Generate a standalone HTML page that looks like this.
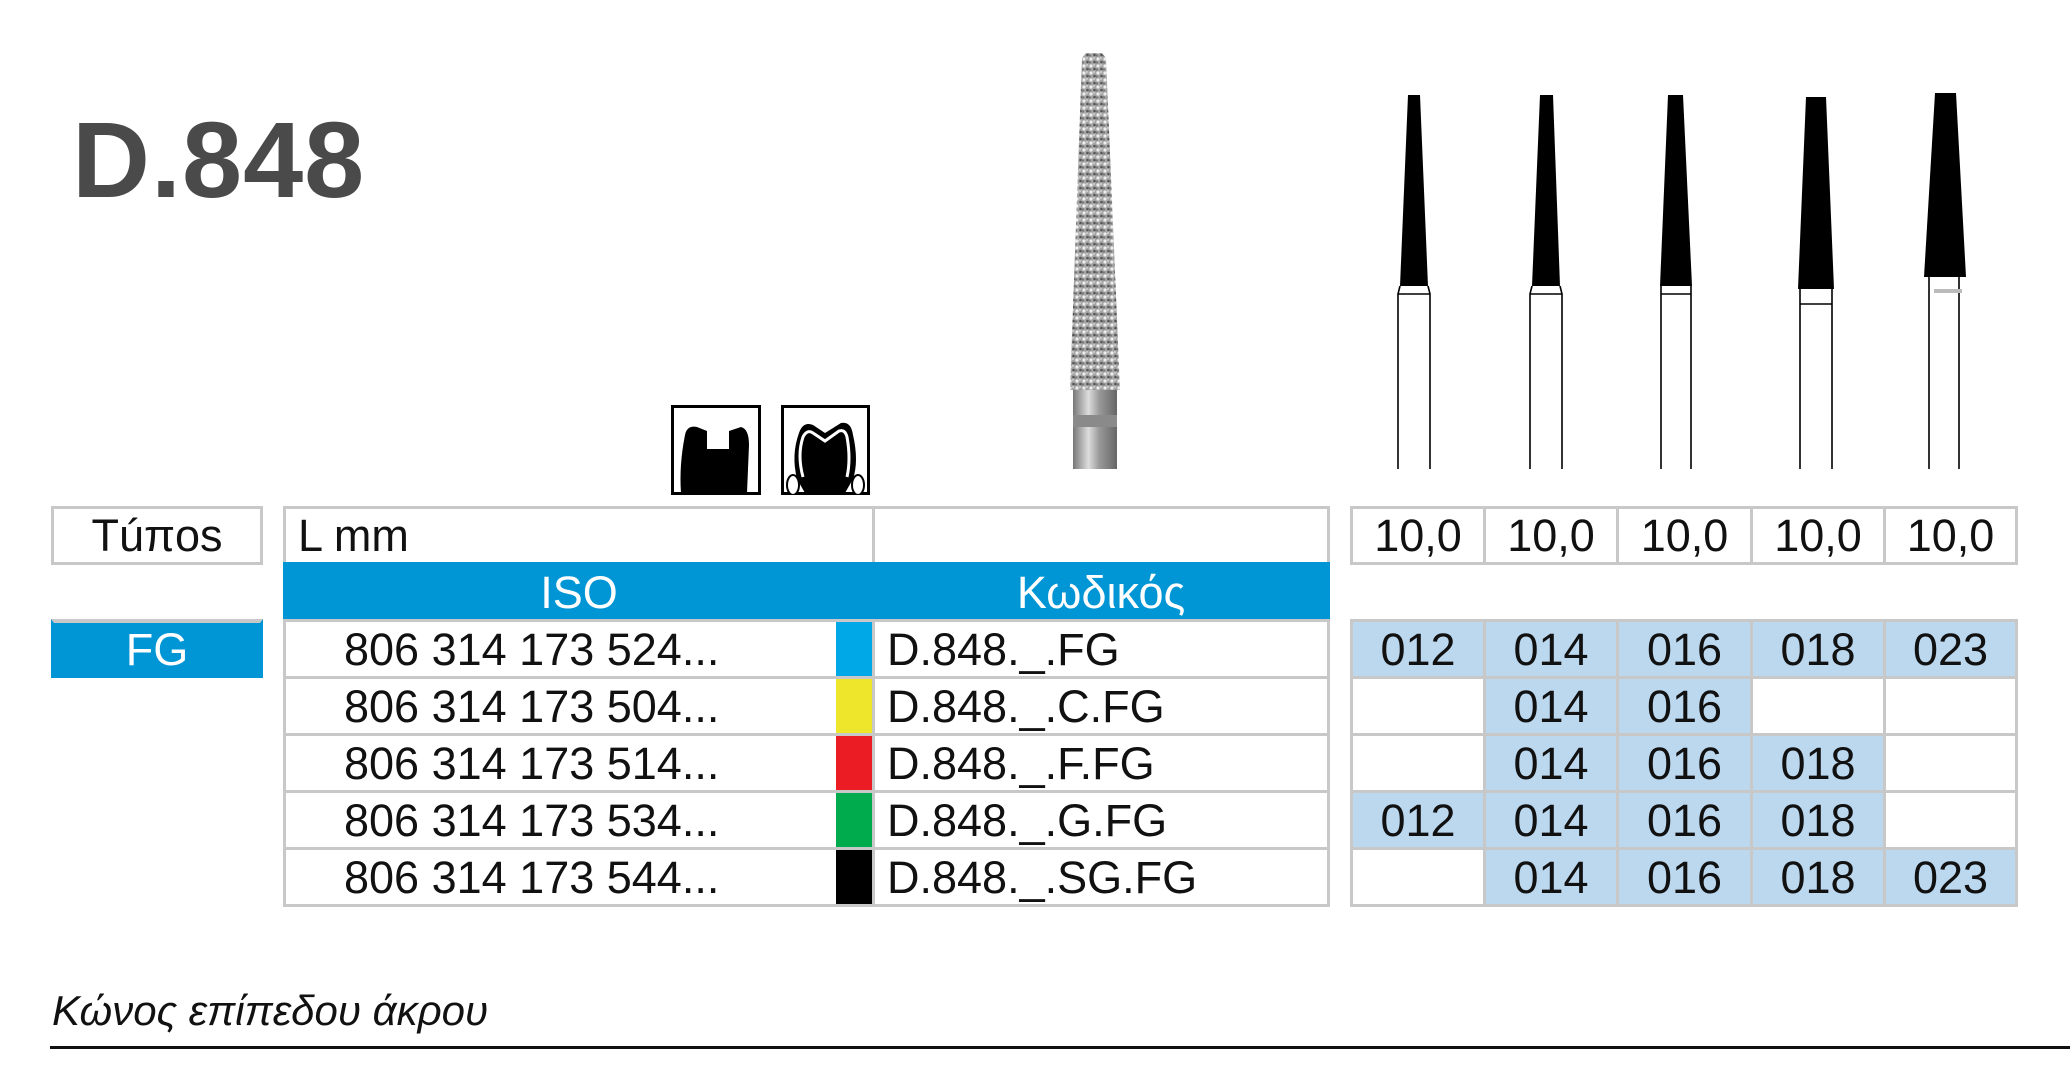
<!DOCTYPE html>
<html><head><meta charset="utf-8">
<style>
body{margin:0;width:2070px;height:1092px;background:#fff;position:relative;overflow:hidden;font-family:"Liberation Sans","DejaVu Sans",sans-serif;color:#111}
.a{position:absolute;box-sizing:border-box}
.cell{position:absolute;box-sizing:border-box;border:3px solid #c8c8c8;display:flex;align-items:center;font-size:45px;line-height:1}
.c{justify-content:center}
.lb{background:#bcd8ef}
.blue{background:#0096d6;color:#fff}
</style></head><body>

<div class="a" style="left:72px;top:106px;font-size:108px;font-weight:bold;color:#4a4a4a;letter-spacing:1px;line-height:1">D.848</div>

<!-- diamond bur -->
<svg class="a" style="left:1068px;top:50px" width="60" height="425" viewBox="0 0 60 425">
<defs>
<pattern id="dots" width="7" height="7" patternUnits="userSpaceOnUse">
<rect width="7" height="7" fill="#a5a5a5"/>
<circle cx="2" cy="2" r="1.6" fill="#eee"/><circle cx="5.5" cy="5" r="1.3" fill="#555"/><circle cx="5" cy="1" r="0.9" fill="#ddd"/><circle cx="1" cy="5.5" r="1.1" fill="#777"/>
</pattern>
<linearGradient id="sh" x1="0" x2="1"><stop offset="0" stop-color="#777"/><stop offset=".35" stop-color="#ddd"/><stop offset=".6" stop-color="#999"/><stop offset="1" stop-color="#666"/></linearGradient>
</defs>
<polygon points="14,8 18,3 34,3 38,8 52,340 2,340" fill="url(#dots)"/>
<rect x="5" y="340" width="44" height="25" fill="url(#sh)"/>
<rect x="5" y="365" width="44" height="12" fill="#8a8a8a"/>
<rect x="5" y="377" width="44" height="42" fill="url(#sh)"/>
</svg>

<!-- icons -->
<svg class="a" style="left:671px;top:405px" width="90" height="90" viewBox="0 0 90 90">
<rect x="1.5" y="1.5" width="87" height="87" fill="#fff" stroke="#000" stroke-width="3"/>
<path d="M14,30 Q16,20 26,22 L36,26 L36,44 L58,44 L58,26 L70,22 Q78,24 78,40 L76,88 L10,88 Q8,60 14,30Z" fill="#000"/>
</svg>
<svg class="a" style="left:781px;top:405px" width="89" height="90" viewBox="0 0 89 90">
<rect x="1.5" y="1.5" width="86" height="87" fill="#000" stroke="#000" stroke-width="3"/>
<rect x="3" y="3" width="83" height="84" fill="#fff"/>
<path d="M16,74 Q10,50 18,28 Q22,16 32,20 L44,28 L60,18 Q70,16 72,30 Q78,56 72,74 L64,88 L24,88Z" fill="#000"/>
<path d="M22,72 Q16,50 22,32 Q26,24 32,28 L44,36 L58,26 Q64,24 66,32 Q70,54 66,72" fill="#000" stroke="#fff" stroke-width="3"/>
<ellipse cx="12" cy="80" rx="6" ry="10" fill="#fff" stroke="#000" stroke-width="2"/>
<ellipse cx="77" cy="80" rx="6" ry="10" fill="#fff" stroke="#000" stroke-width="2"/>
</svg>

<!-- black burs -->
<svg class="a" style="left:1340px;top:80px" width="700" height="400" viewBox="1340 80 700 400">
<g fill="#000">
<polygon points="1408,95 1420,95 1428,286 1400,286"/>
<polygon points="1540,95 1553,95 1560,286 1532,286"/>
<polygon points="1668,95 1683,95 1692,286 1660,286"/>
<polygon points="1806,97 1826,97 1834,289 1798,289"/>
<polygon points="1935,93 1956,93 1966,277 1924,277"/>
</g>
<g fill="none" stroke="#000" stroke-width="1.6">
<path d="M1400,286 L1398,294 L1398,469 M1428,286 L1430,294 L1430,469 M1398,294 L1430,294"/>
<path d="M1532,286 L1530,294 L1530,469 M1560,286 L1562,294 L1562,469 M1530,294 L1562,294"/>
<path d="M1661,286 L1661,294 L1661,469 M1691,286 L1691,294 L1691,469 M1661,294 L1691,294"/>
<path d="M1800,289 L1800,304 L1800,469 M1832,289 L1832,304 L1832,469 M1800,304 L1832,304"/>
<path d="M1929,277 L1929,469 M1959,277 L1959,469"/>
</g>
<rect x="1934" y="289" width="28" height="4" fill="#bbb"/>
</svg>

<!-- left -->
<div class="cell c" style="left:51px;top:506px;width:212px;height:59px">Túπos</div>
<div class="cell c blue" style="left:51px;top:619px;width:212px;height:59px;border-color:#0096d6;border-top:4px solid #c8c8c8">FG</div>

<!-- main table -->
<div class="cell" style="left:283px;top:506px;width:592px;height:59px;padding-left:12px">L mm</div>
<div class="cell" style="left:872px;top:506px;width:458px;height:59px"></div>
<div class="cell c blue" style="left:283px;top:562px;width:592px;height:60px;border-color:#0096d6;border-right:3px solid #c8c8c8">ISO</div>
<div class="cell c blue" style="left:872px;top:562px;width:458px;height:60px;border-color:#0096d6">Κωδικός</div>

<div class="cell" style="left:283px;top:619px;width:592px;height:60px;padding-left:58px">806 314 173 524...</div>
<div class="cell" style="left:283px;top:676px;width:592px;height:60px;padding-left:58px">806 314 173 504...</div>
<div class="cell" style="left:283px;top:733px;width:592px;height:60px;padding-left:58px">806 314 173 514...</div>
<div class="cell" style="left:283px;top:790px;width:592px;height:60px;padding-left:58px">806 314 173 534...</div>
<div class="cell" style="left:283px;top:847px;width:592px;height:60px;padding-left:58px">806 314 173 544...</div>

<div class="cell" style="left:872px;top:619px;width:458px;height:60px;padding-left:12px">D.848._.FG</div>
<div class="cell" style="left:872px;top:676px;width:458px;height:60px;padding-left:12px">D.848._.C.FG</div>
<div class="cell" style="left:872px;top:733px;width:458px;height:60px;padding-left:12px">D.848._.F.FG</div>
<div class="cell" style="left:872px;top:790px;width:458px;height:60px;padding-left:12px">D.848._.G.FG</div>
<div class="cell" style="left:872px;top:847px;width:458px;height:60px;padding-left:12px">D.848._.SG.FG</div>

<div class="a" style="left:836px;top:622px;width:36px;height:54px;background:#00a8e8"></div>
<div class="a" style="left:836px;top:679px;width:36px;height:54px;background:#ede62a"></div>
<div class="a" style="left:836px;top:736px;width:36px;height:54px;background:#ec1c24"></div>
<div class="a" style="left:836px;top:793px;width:36px;height:54px;background:#00ab4e"></div>
<div class="a" style="left:836px;top:850px;width:36px;height:54px;background:#000"></div>

<!-- right table -->
<div class="cell c" style="left:1350px;top:506px;width:136px;height:59px">10,0</div>
<div class="cell c" style="left:1483px;top:506px;width:136px;height:59px">10,0</div>
<div class="cell c" style="left:1616px;top:506px;width:137px;height:59px">10,0</div>
<div class="cell c" style="left:1750px;top:506px;width:136px;height:59px">10,0</div>
<div class="cell c" style="left:1883px;top:506px;width:135px;height:59px">10,0</div>

<div class="cell c lb" style="left:1350px;top:619px;width:136px;height:60px">012</div>
<div class="cell c lb" style="left:1483px;top:619px;width:136px;height:60px">014</div>
<div class="cell c lb" style="left:1616px;top:619px;width:137px;height:60px">016</div>
<div class="cell c lb" style="left:1750px;top:619px;width:136px;height:60px">018</div>
<div class="cell c lb" style="left:1883px;top:619px;width:135px;height:60px">023</div>

<div class="cell c" style="left:1350px;top:676px;width:136px;height:60px"></div>
<div class="cell c lb" style="left:1483px;top:676px;width:136px;height:60px">014</div>
<div class="cell c lb" style="left:1616px;top:676px;width:137px;height:60px">016</div>
<div class="cell c" style="left:1750px;top:676px;width:136px;height:60px"></div>
<div class="cell c" style="left:1883px;top:676px;width:135px;height:60px"></div>

<div class="cell c" style="left:1350px;top:733px;width:136px;height:60px"></div>
<div class="cell c lb" style="left:1483px;top:733px;width:136px;height:60px">014</div>
<div class="cell c lb" style="left:1616px;top:733px;width:137px;height:60px">016</div>
<div class="cell c lb" style="left:1750px;top:733px;width:136px;height:60px">018</div>
<div class="cell c" style="left:1883px;top:733px;width:135px;height:60px"></div>

<div class="cell c lb" style="left:1350px;top:790px;width:136px;height:60px">012</div>
<div class="cell c lb" style="left:1483px;top:790px;width:136px;height:60px">014</div>
<div class="cell c lb" style="left:1616px;top:790px;width:137px;height:60px">016</div>
<div class="cell c lb" style="left:1750px;top:790px;width:136px;height:60px">018</div>
<div class="cell c" style="left:1883px;top:790px;width:135px;height:60px"></div>

<div class="cell c" style="left:1350px;top:847px;width:136px;height:60px"></div>
<div class="cell c lb" style="left:1483px;top:847px;width:136px;height:60px">014</div>
<div class="cell c lb" style="left:1616px;top:847px;width:137px;height:60px">016</div>
<div class="cell c lb" style="left:1750px;top:847px;width:136px;height:60px">018</div>
<div class="cell c lb" style="left:1883px;top:847px;width:135px;height:60px">023</div>

<div class="a" style="left:52px;top:990px;font-size:42px;font-style:italic;line-height:1">Κώνος επίπεδου άκρου</div>
<div class="a" style="left:50px;top:1046px;width:2020px;height:3px;background:#111"></div>
</body></html>
